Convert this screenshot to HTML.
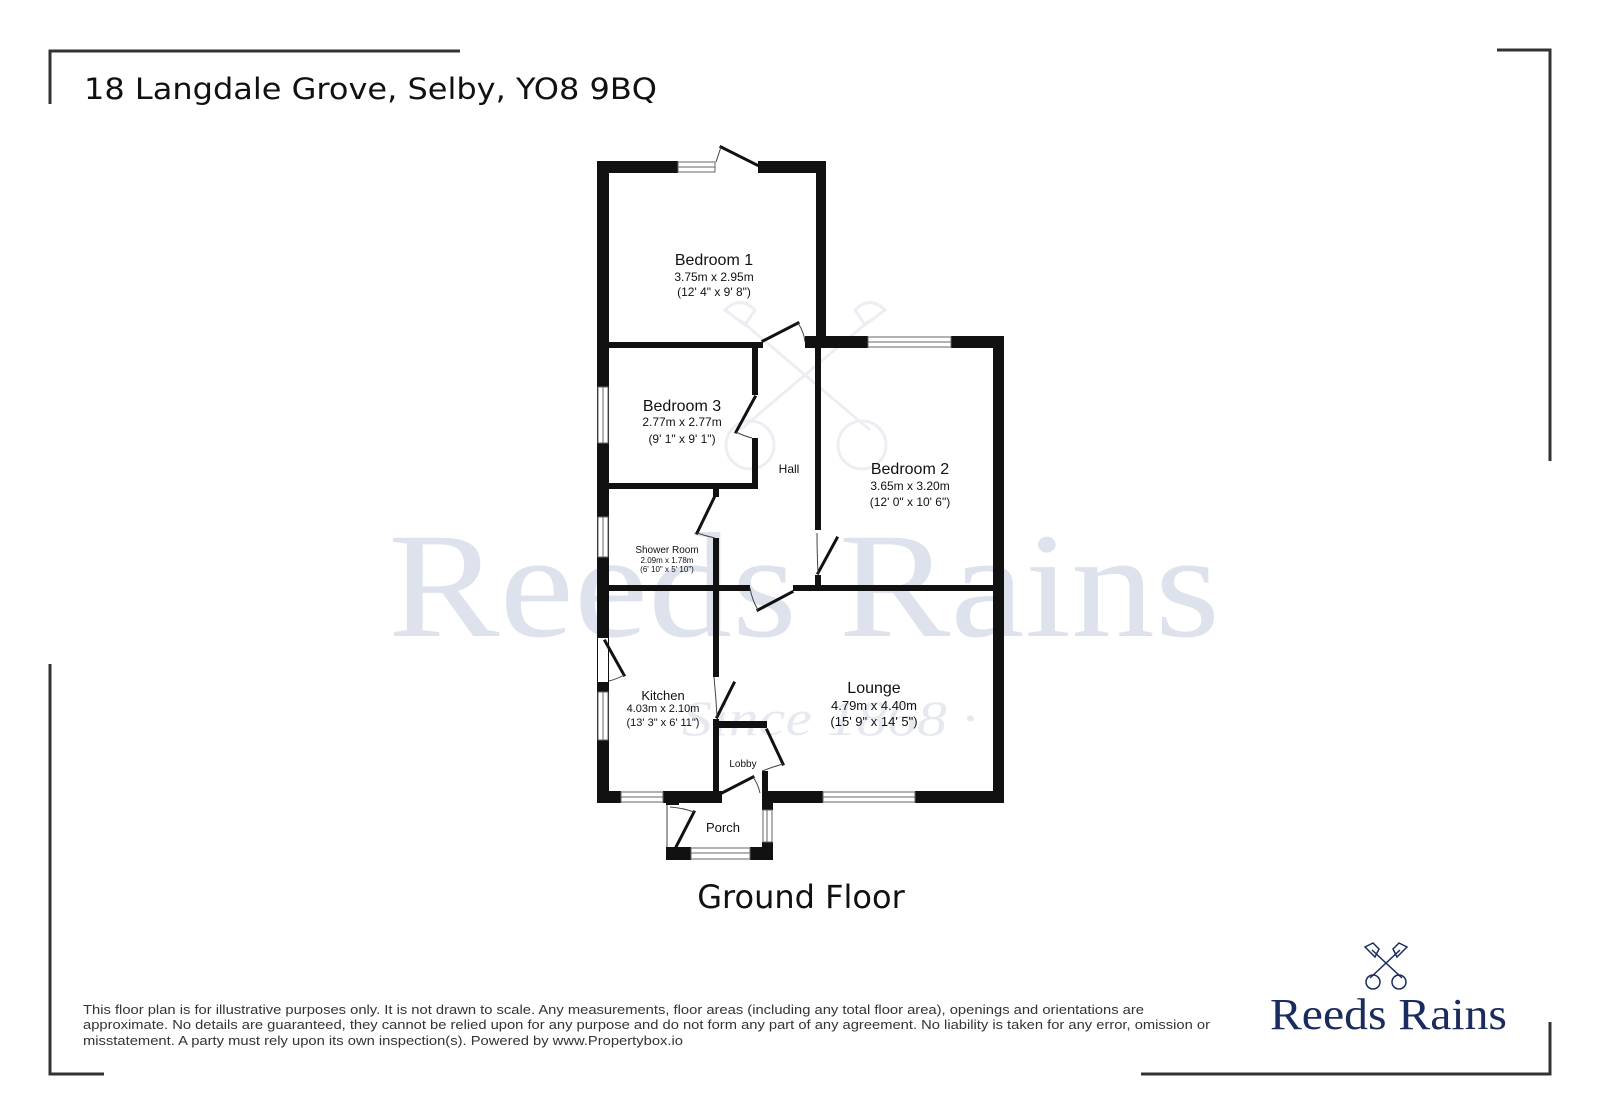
<!DOCTYPE html>
<html><head><meta charset="utf-8"><style>
html,body{margin:0;padding:0;background:#fff;}
svg{display:block;}
text{font-family:"Liberation Sans",sans-serif;}
</style></head><body>
<svg width="1599" height="1119" viewBox="0 0 1599 1119" xmlns="http://www.w3.org/2000/svg">
<rect width="1599" height="1119" fill="#fff"/>
<!-- corner brackets -->
<g stroke="#333" stroke-width="3" fill="none">
<polyline points="50,104 50,51 460,51"/>
<polyline points="1497,50 1550,50 1550,461"/>
<polyline points="50,664 50,1074 104,1074"/>
<polyline points="1141,1074 1550,1074 1550,1022"/>
</g>
<text x="84" y="99" font-size="29" fill="#111" textLength="573" lengthAdjust="spacingAndGlyphs" style="font-family:'DejaVu Sans',sans-serif">18 Langdale Grove, Selby, YO8 9BQ</text>

<!-- watermark -->
<text x="388" y="636" font-size="150" fill="#dde2ec" textLength="832" lengthAdjust="spacingAndGlyphs" style="font-family:'Liberation Serif',serif">Reeds Rains</text>
<text x="682" y="735" font-size="50" fill="#e6e9f0" font-style="italic" textLength="295" lengthAdjust="spacingAndGlyphs" style="font-family:'Liberation Serif',serif">Since 1868 ·</text>
<g stroke="#eceef3" stroke-width="3" fill="none">
<line x1="740" y1="320" x2="870" y2="430"/><line x1="870" y1="320" x2="740" y2="430"/>
<circle cx="750" cy="445" r="24"/><circle cx="862" cy="445" r="24"/>
<path d="M725,310 q15,-15 30,0 l-10,15 z"/><path d="M885,310 q-15,-15 -30,0 l10,15 z"/>
</g>

<!-- walls -->
<g fill="#111">
<rect x="597" y="161" width="81" height="12"/>
<rect x="758" y="161" width="68" height="12"/>
<rect x="597" y="161" width="12" height="642"/>
<rect x="816" y="161" width="10" height="187"/>
<rect x="597" y="342" width="166" height="6"/>
<rect x="805" y="336" width="63" height="12"/>
<rect x="951" y="336" width="53" height="12"/>
<rect x="993" y="336" width="11" height="467"/>
<rect x="815" y="348" width="6" height="182"/>
<rect x="815" y="575" width="6" height="12"/>
<rect x="752" y="348" width="6" height="47"/>
<rect x="752" y="438" width="6" height="51"/>
<rect x="597" y="483" width="161" height="6"/>
<rect x="713" y="489" width="6" height="8"/>
<rect x="713" y="538" width="6" height="50"/>
<rect x="597" y="585" width="153" height="6"/>
<rect x="793" y="585" width="211" height="6"/>
<rect x="713" y="591" width="6" height="86"/>
<rect x="713" y="719" width="6" height="84"/>
<rect x="713" y="721" width="54" height="7"/>
<rect x="762" y="771" width="6" height="32"/>
<rect x="597" y="791" width="24" height="12"/>
<rect x="663" y="791" width="59" height="12"/>
<rect x="762" y="791" width="61" height="12"/>
<rect x="915" y="791" width="89" height="12"/>
<rect x="666" y="791" width="13" height="14"/>
<rect x="666" y="847" width="25" height="13"/>
<rect x="750" y="847" width="23" height="13"/>
<rect x="762" y="791" width="11" height="19"/>
<rect x="762" y="842" width="11" height="18"/>
</g>
<!-- windows -->
<g fill="#fff" stroke="#666" stroke-width="1">
<rect x="678" y="162" width="37" height="10"/><line x1="678" y1="167" x2="715" y2="167"/>
<rect x="868" y="337" width="83" height="10"/><line x1="868" y1="342" x2="951" y2="342"/>
<rect x="598" y="387" width="10" height="56"/><line x1="603" y1="387" x2="603" y2="443"/>
<rect x="598" y="517" width="10" height="40"/><line x1="603" y1="517" x2="603" y2="557"/>
<rect x="598" y="692" width="10" height="48"/><line x1="603" y1="692" x2="603" y2="740"/>
<rect x="621" y="792" width="42" height="10"/><line x1="621" y1="797" x2="663" y2="797"/>
<rect x="823" y="792" width="92" height="10"/><line x1="823" y1="797" x2="915" y2="797"/>
<rect x="691" y="848" width="59" height="11"/><line x1="691" y1="853" x2="750" y2="853"/>
<rect x="763" y="810" width="9" height="32"/><line x1="767" y1="810" x2="767" y2="842"/>
</g>
<g fill="#fff"><rect x="598" y="638" width="10" height="44"/></g>
<!-- doors -->
<g stroke="#111" stroke-width="3" fill="none" stroke-linecap="square">
<line x1="721" y1="147" x2="757" y2="165"/>
<line x1="763" y1="341" x2="798" y2="323"/>
<line x1="755" y1="397" x2="736" y2="432"/>
<line x1="714" y1="498" x2="697" y2="533"/>
<line x1="837" y1="538" x2="818" y2="573"/>
<line x1="758" y1="610" x2="792" y2="592"/>
<line x1="605" y1="641" x2="624" y2="675"/>
<line x1="734" y1="683" x2="717" y2="717"/>
<line x1="767" y1="730" x2="783" y2="764"/>
<line x1="722" y1="793" x2="753" y2="777"/>
<line x1="694" y1="812" x2="676" y2="847"/>
</g>
<g stroke="#444" stroke-width="1" fill="none">
<path d="M716,162 L721,147"/>
<path d="M798,323 Q804,332 805,342"/>
<path d="M736,432 Q744,436 752,438"/>
<path d="M697,533 Q706,536 715,538"/>
<path d="M818,573 Q817,552 817,533"/>
<path d="M750,588 Q752,600 758,610"/>
<path d="M624,675 Q617,679 609,681"/>
<path d="M717,717 Q716,697 714,677"/>
<path d="M783,764 Q772,767 762,771"/>
<path d="M753,777 Q758,784 760,793"/>
<path d="M670,807 Q683,808 694,812"/>
<line x1="667" y1="805" x2="667" y2="847"/>
</g>

<!-- labels -->
<g fill="#111" text-anchor="middle">
<text x="714" y="265" font-size="16">Bedroom 1</text>
<text x="714" y="281" font-size="12">3.75m x 2.95m</text>
<text x="714" y="296" font-size="12">(12' 4" x 9' 8")</text>
<text x="682" y="411" font-size="16">Bedroom 3</text>
<text x="682" y="426" font-size="12">2.77m x 2.77m</text>
<text x="682" y="443" font-size="12">(9' 1" x 9' 1")</text>
<text x="789" y="473" font-size="12">Hall</text>
<text x="910" y="474" font-size="16">Bedroom 2</text>
<text x="910" y="490" font-size="12">3.65m x 3.20m</text>
<text x="910" y="506" font-size="12">(12' 0" x 10' 6")</text>
<text x="667" y="553" font-size="10">Shower Room</text>
<text x="667" y="563" font-size="8">2.09m x 1.78m</text>
<text x="667" y="572" font-size="8">(6' 10" x 5' 10")</text>
<text x="663" y="700" font-size="13">Kitchen</text>
<text x="663" y="712" font-size="11">4.03m x 2.10m</text>
<text x="663" y="726" font-size="11">(13' 3" x 6' 11")</text>
<text x="874" y="693" font-size="16">Lounge</text>
<text x="874" y="710" font-size="13">4.79m x 4.40m</text>
<text x="874" y="726" font-size="13">(15' 9" x 14' 5")</text>
<text x="743" y="767" font-size="10">Lobby</text>
<text x="723" y="832" font-size="13">Porch</text>
</g>
<text x="801" y="908" text-anchor="middle" font-size="32" fill="#111" style="font-family:'DejaVu Sans',sans-serif">Ground Floor</text>

<!-- footer -->
<g fill="#333" font-size="13">
<text x="83" y="1014" textLength="1061" lengthAdjust="spacingAndGlyphs">This floor plan is for illustrative purposes only. It is not drawn to scale. Any measurements, floor areas (including any total floor area), openings and orientations are</text>
<text x="83" y="1029" textLength="1127" lengthAdjust="spacingAndGlyphs">approximate. No details are guaranteed, they cannot be relied upon for any purpose and do not form any part of any agreement. No liability is taken for any error, omission or</text>
<text x="83" y="1045" textLength="600" lengthAdjust="spacingAndGlyphs">misstatement. A party must rely upon its own inspection(s). Powered by www.Propertybox.io</text>
</g>

<!-- logo -->
<g stroke="#1a2b5e" stroke-width="1.5" fill="none" transform="translate(-8,0)">
<line x1="1380" y1="950" x2="1410" y2="978"/><line x1="1408" y1="950" x2="1378" y2="978"/>
<path d="M1373,947 l8,-4 l6,6 l-4,8 z"/><path d="M1415,947 l-8,-4 l-6,6 l4,8 z"/>
<circle cx="1381" cy="982" r="7"/><circle cx="1407" cy="982" r="7"/>
</g>
<text x="1270" y="1029" font-size="44" fill="#1a2b5e" textLength="237" lengthAdjust="spacingAndGlyphs" style="font-family:'Liberation Serif',serif">Reeds Rains</text>
</svg>
</body></html>
